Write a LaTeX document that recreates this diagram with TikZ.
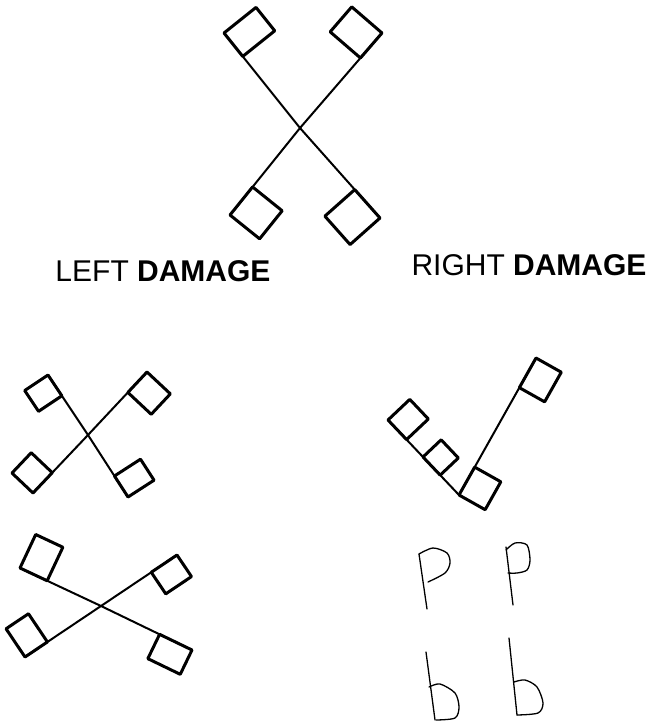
\documentclass[tikz,border=0pt]{standalone}
\usepackage{fontspec}
\setmainfont{Liberation Sans}
\usetikzlibrary{calc}

\tikzset{
  pole/.style={line width=2pt},
  flagbox/.style={line width=3pt},
  pen/.style={line width=1.3pt},
  caption/.style={font=\fontsize{30}{36}\selectfont, inner sep=0pt}
}

% flag cloth at a pole tip: #1 toward the hub, #2 tip, #3 along, #4 across, #5 turn
\newcommand{\cloth}[5]{%
  \path (#2) coordinate (ct) ($(#2)!#3pt!(#1)$) coordinate (ca)
        ($(#2)!#4pt!#5:(#1)$) coordinate (cb);
  \draw[flagbox] (ca) -- (ct) -- (cb) -- ($(ca)+(cb)-(ct)$) -- cycle;
}

\begin{document}
\begin{tikzpicture}[line cap=round, line join=round, x=1pt, y=-1pt]
  \useasboundingbox (0,0) rectangle (654,722);

  % Top: arms crossed, flags turned in.
  \coordinate (hubT) at (300,128);
  \draw[pole] (hubT) -- (224,33);  \cloth{hubT}{224,33}{30}{41}{90}
  \draw[pole] (hubT) -- (382,33);  \cloth{hubT}{382,33}{33}{40}{-90}
  \draw[pole] (hubT) -- (230,215); \cloth{hubT}{230,215}{36}{38}{-90}
  \draw[pole] (hubT) -- (380,218); \cloth{hubT}{380,218}{38}{40}{90}

  \node[caption] (leftcap) at (163,271) {LEFT \textbf{DAMAGE}};
  \node[caption] (rightcap) at (529,265) {RIGHT \textbf{DAMAGE}};

  % Left damage, first cross.
  \coordinate (hubA) at (88,435);
  \draw[pole] (hubA) -- (48,375);  \cloth{hubA}{48,375}{25}{28}{-90}
  \draw[pole] (hubA) -- (147,372); \cloth{hubA}{147,372}{28}{32}{90}
  \draw[pole] (hubA) -- (33,493);  \cloth{hubA}{33,493}{28}{29}{90}
  \draw[pole] (hubA) -- (128,497); \cloth{hubA}{128,497}{25}{31}{-90}

  % Left damage, second cross, flatter.
  \coordinate (hubB) at (101,606);
  \draw[pole] (hubB) -- (20,568);  \cloth{hubB}{20,568}{30}{37}{90}
  \draw[pole] (hubB) -- (177,555); \cloth{hubB}{177,555}{31}{26}{90}
  \draw[pole] (hubB) -- (25,657);  \cloth{hubB}{25,657}{27}{34}{90}
  \draw[pole] (hubB) -- (192,650); \cloth{hubB}{192,650}{36}{27}{90}

  % Right damage: bent arm.
  \coordinate (hinge) at (459,495);
  \coordinate (up) at (536,358);
  \coordinate (low) at (388,420);
  \draw[pole] (hinge) -- (up);
  \draw[pole] (hinge) -- (low);
  \cloth{hinge}{up}{34}{29}{90}
  \cloth{up}{hinge}{32}{30}{-90}
  \cloth{hinge}{low}{27}{30}{90}
  \cloth{hinge}{423,457}{25}{25}{90}

  % P P and b b
  \draw[pen] (419,554) -- (427,609);
  \draw[pen] plot[smooth] coordinates {(419,554) (433,548) (447,553) (450,563) (445,573) (428,582)};
  \draw[pen] (506,547) -- (513,605);
  \draw[pen] plot[smooth] coordinates {(506,550) (515,543) (527,545) (530,560) (527,570) (517,573) (508,573)};
  \draw[pen] (426,652) -- (435,720);
  \draw[pen] plot[smooth] coordinates {(429,687) (440,684) (455,693) (459,707) (455,718) (436,720)};
  \draw[pen] (509,638) -- (517,715);
  \draw[pen] plot[smooth] coordinates {(514,682) (525,680) (537,687) (543,703) (538,713) (517,715)};
\end{tikzpicture}
\end{document}
